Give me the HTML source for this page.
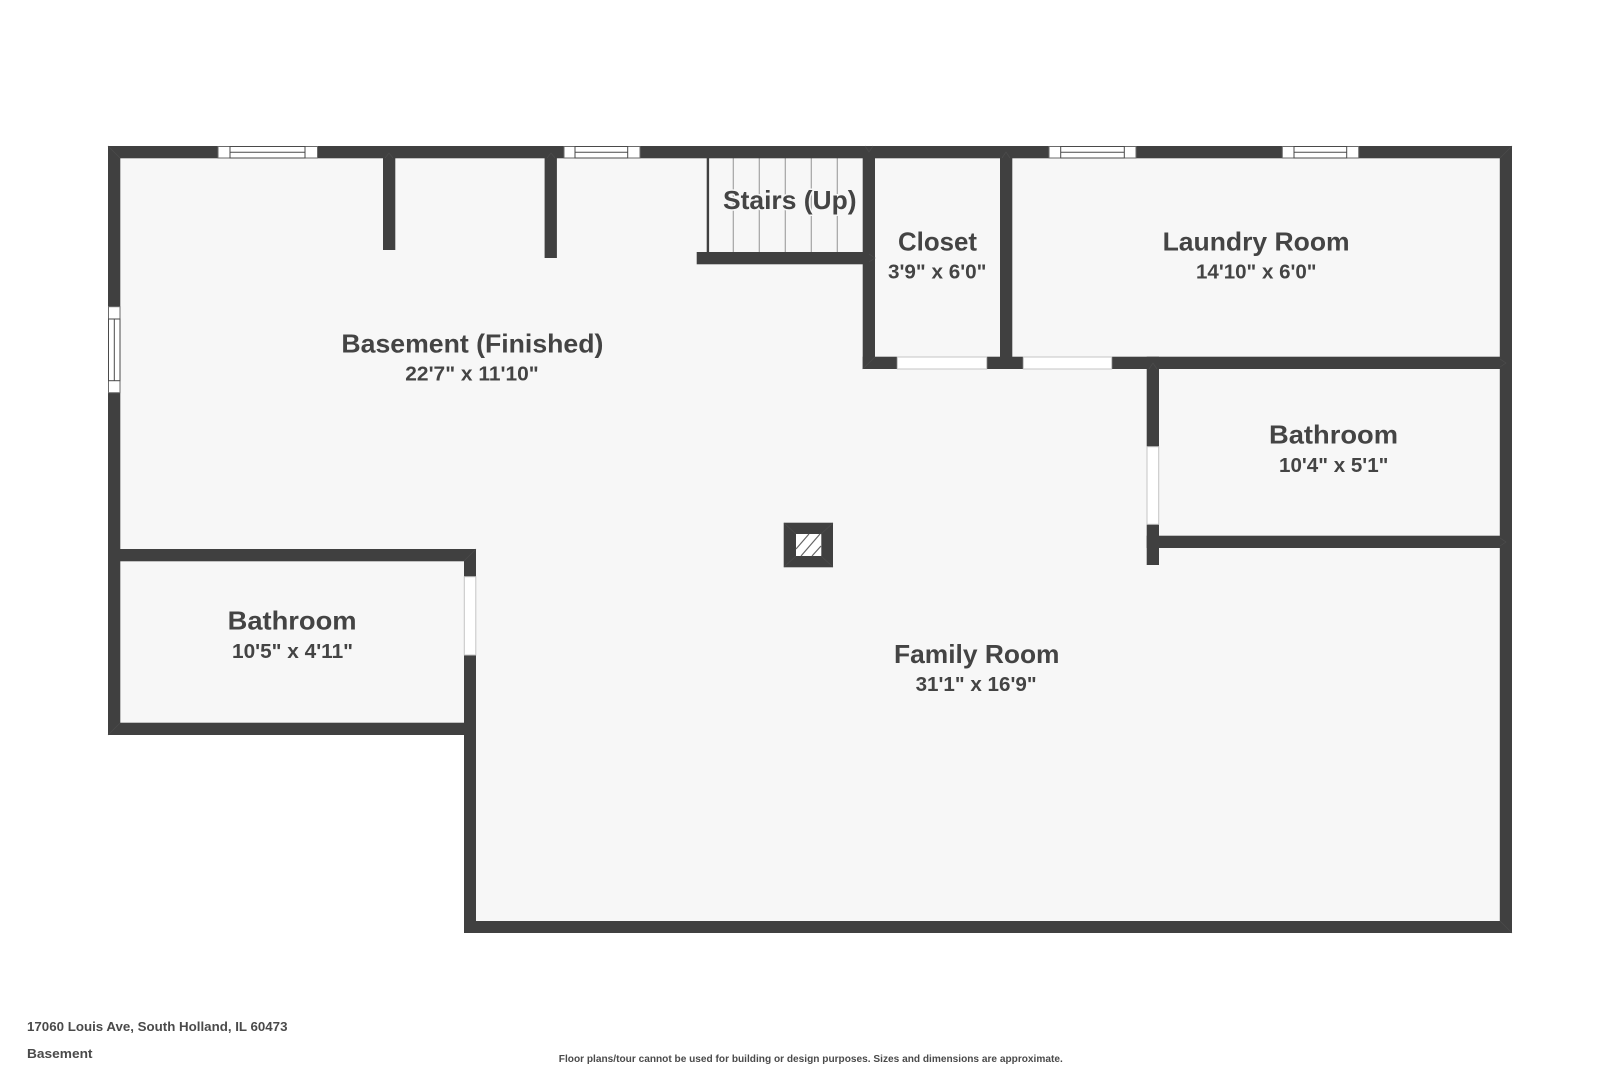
<!DOCTYPE html>
<html><head><meta charset="utf-8"><title>Basement floor plan</title>
<style>
html,body{margin:0;padding:0;background:#fff;width:1620px;height:1080px;overflow:hidden}
svg{display:block}
text{font-family:"Liberation Sans",sans-serif;font-weight:700;fill:#444}
.t{font-size:26px}.d{font-size:20.5px}.f{font-size:13px;fill:#4a4a4a}.s{font-size:10px;fill:#4a4a4a}
</style></head><body>
<svg xmlns="http://www.w3.org/2000/svg" width="1620" height="1080" viewBox="0 0 1620 1080">
<rect width="1620" height="1080" fill="#fff"/>
<polygon points="108,146 1512,146 1512,933 464,933 464,735 108,735" fill="#f7f7f7"/>
<!-- stair treads -->
<g stroke="#a3a3a3" stroke-width="1.2">
<line x1="733.3" y1="158" x2="733.3" y2="252"/><line x1="759.3" y1="158" x2="759.3" y2="252"/><line x1="785.3" y1="158" x2="785.3" y2="252"/><line x1="811.3" y1="158" x2="811.3" y2="252"/><line x1="837.3" y1="158" x2="837.3" y2="252"/>
</g>
<!-- walls -->
<g fill="#404040">
<rect x="108" y="146" width="1404" height="12.3"/>
<rect x="108" y="146" width="12.3" height="589"/>
<rect x="1499.8" y="146" width="12.2" height="787"/>
<rect x="464" y="921" width="1048" height="12"/>
<rect x="464" y="549" width="12" height="384"/>
<rect x="108" y="549" width="368" height="12.3"/>
<rect x="108" y="722.7" width="368" height="12.3"/>
<rect x="383" y="146" width="12.3" height="104"/>
<rect x="544.6" y="146" width="12.3" height="112"/>
<rect x="706.7" y="146" width="2.4" height="110"/>
<rect x="696.7" y="252" width="178" height="12.3"/>
<rect x="862.7" y="146" width="12.3" height="223"/>
<rect x="1000" y="146" width="12.3" height="223"/>
<rect x="862.7" y="356.7" width="649" height="12.3"/>
<rect x="1146.7" y="356.7" width="12.3" height="208.3"/>
<rect x="1146.7" y="535.7" width="365" height="12.3"/>
</g>
<!-- faint wall joint seams -->
<g stroke="#4c4c4c" stroke-width="0.7" fill="none">
<path d="M108,146 L120,158 M1512,146 L1500,158 M1512,933 L1500,921 M108,735 L120,723 M476,549 L464,561 M385,158 L389,153 L393,158 M547,158 L551,153 L555,158 M865,146 L869,152 L873,146 M1002,158 L1006,152 L1010,158 M862.7,369 L875,357 M1149,369 L1153,363 L1157,369 M1500,359 L1506,363 L1500,367 M1500,538 L1506,542 L1500,546 M869,254 L875,258 L869,262"/>
</g>
<!-- top windows -->
<g>
<g fill="#fff" stroke="#6a6a6a" stroke-width="1">
<rect x="218" y="146.5" width="99.5" height="11.5"/>
<rect x="564" y="146.5" width="76" height="11.5"/>
<rect x="1049" y="146.5" width="87" height="11.5"/>
<rect x="1282.3" y="146.5" width="76.4" height="11.5"/>
</g>
<g fill="none" stroke="#4a4a4a" stroke-width="1">
<rect x="230" y="146.5" width="75" height="11.5"/><line x1="230" y1="152.3" x2="305" y2="152.3"/>
<rect x="575" y="146.5" width="52.7" height="11.5"/><line x1="575" y1="152.3" x2="627.7" y2="152.3"/>
<rect x="1060.7" y="146.5" width="63.6" height="11.5"/><line x1="1060.7" y1="152.3" x2="1124.3" y2="152.3"/>
<rect x="1294" y="146.5" width="52.7" height="11.5"/><line x1="1294" y1="152.3" x2="1346.7" y2="152.3"/>
</g>
</g>
<!-- left window -->
<rect x="108.5" y="306.7" width="11.5" height="86" fill="#fff" stroke="#6a6a6a" stroke-width="1"/>
<rect x="108.5" y="319" width="11.5" height="61.7" fill="none" stroke="#4a4a4a" stroke-width="1"/>
<line x1="114.3" y1="319" x2="114.3" y2="380.7" stroke="#4a4a4a" stroke-width="1"/>
<!-- door openings -->
<g fill="#fff" stroke="#c4c4c4" stroke-width="1">
<rect x="897.3" y="357" width="89.4" height="12"/>
<rect x="1023.3" y="357" width="88.4" height="12"/>
<rect x="1147" y="446.7" width="11.7" height="77.6"/>
<rect x="464.3" y="576.7" width="11.5" height="78.3"/>
</g>
<!-- chimney -->
<rect x="783.7" y="522.7" width="49.3" height="44.6" fill="#404040"/>
<rect x="796" y="534" width="25.3" height="22" fill="#fff"/>
<g stroke="#666" stroke-width="1.2" fill="none">
<path d="M796,549 L809,534 M801,556 L820,534 M812,556 L821,546"/>
</g>
<g stroke="#4c4c4c" stroke-width="0.7"><path d="M784,523 L796,534 M833,523 L821,534 M784,567 L796,556 M833,567 L821,556"/></g>
<!-- labels -->
<text class="t" x="341.4" y="352.4" textLength="262" lengthAdjust="spacingAndGlyphs">Basement (Finished)</text>
<text class="d" x="405.3" y="380.4" textLength="133.4" lengthAdjust="spacingAndGlyphs">22'7" x 11'10"</text>
<text class="t" x="723" y="209" textLength="133.5" lengthAdjust="spacingAndGlyphs" style="paint-order:stroke;stroke:#f7f7f7;stroke-width:3px">Stairs (Up)</text>
<text class="t" x="898" y="250.4" textLength="79" lengthAdjust="spacingAndGlyphs">Closet</text>
<text class="d" x="888" y="278.5" textLength="98.5" lengthAdjust="spacingAndGlyphs">3'9" x 6'0"</text>
<text class="t" x="1162.6" y="250.4" textLength="187" lengthAdjust="spacingAndGlyphs">Laundry Room</text>
<text class="d" x="1196" y="278.5" textLength="120.5" lengthAdjust="spacingAndGlyphs">14'10" x 6'0"</text>
<text class="t" x="1269" y="443.7" textLength="129" lengthAdjust="spacingAndGlyphs">Bathroom</text>
<text class="d" x="1279" y="471.8" textLength="109.4" lengthAdjust="spacingAndGlyphs">10'4" x 5'1"</text>
<text class="t" x="227.6" y="629.7" textLength="129" lengthAdjust="spacingAndGlyphs">Bathroom</text>
<text class="d" x="232" y="658.2" textLength="121" lengthAdjust="spacingAndGlyphs">10'5" x 4'11"</text>
<text class="t" x="894" y="663" textLength="165.5" lengthAdjust="spacingAndGlyphs">Family Room</text>
<text class="d" x="915.6" y="691" textLength="121" lengthAdjust="spacingAndGlyphs">31'1" x 16'9"</text>
<!-- footer -->
<text class="f" x="27" y="1031" textLength="260.5" lengthAdjust="spacingAndGlyphs">17060 Louis Ave, South Holland, IL 60473</text>
<text class="f" x="27" y="1058" textLength="65.5" lengthAdjust="spacingAndGlyphs">Basement</text>
<text class="s" x="558.8" y="1062" textLength="504" lengthAdjust="spacingAndGlyphs">Floor plans/tour cannot be used for building or design purposes. Sizes and dimensions are approximate.</text>
</svg>
</body></html>
